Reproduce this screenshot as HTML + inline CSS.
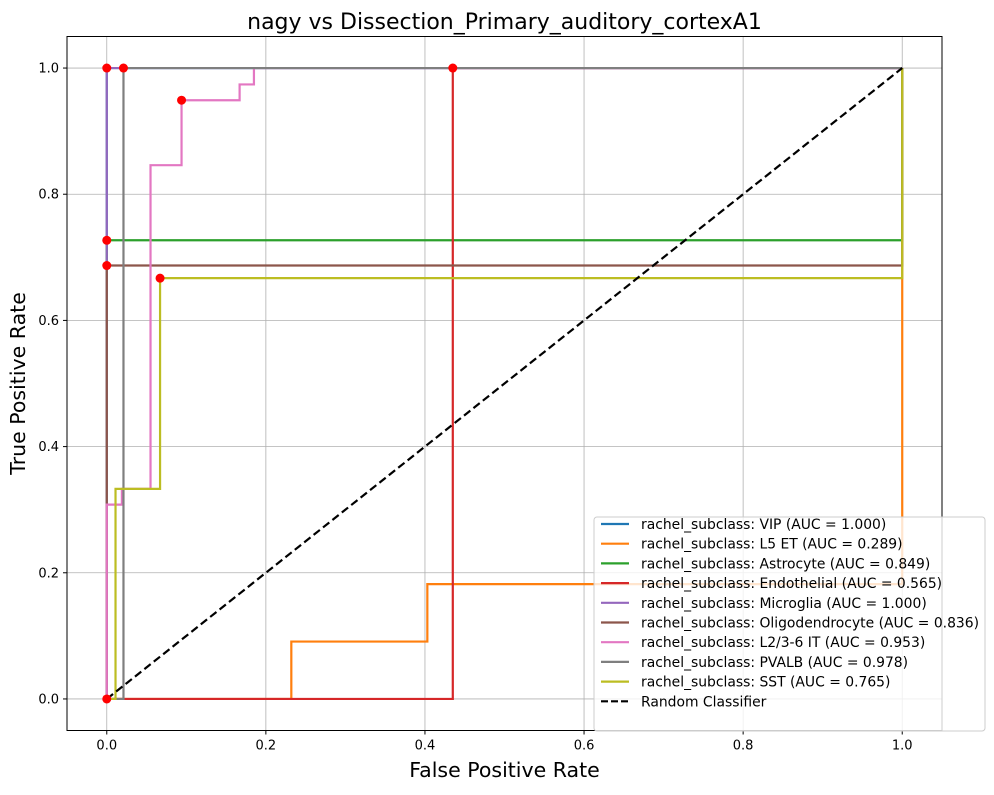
<!DOCTYPE html>
<html><head><meta charset="utf-8"><style>body{margin:0;background:#fff}svg{font-family:"DejaVu Sans","Liberation Sans",sans-serif}</style></head>
<body>
<svg id="c" width="994" height="790"></svg>
<script>
const names=["rachel_subclass: VIP (AUC = 1.000)","rachel_subclass: L5 ET (AUC = 0.289)","rachel_subclass: Astrocyte (AUC = 0.849)","rachel_subclass: Endothelial (AUC = 0.565)","rachel_subclass: Microglia (AUC = 1.000)","rachel_subclass: Oligodendrocyte (AUC = 0.836)","rachel_subclass: L2/3-6 IT (AUC = 0.953)","rachel_subclass: PVALB (AUC = 0.978)","rachel_subclass: SST (AUC = 0.765)"];
const colors=["#1f77b4","#ff7f0e","#2ca02c","#d62728","#9467bd","#8c564b","#e377c2","#7f7f7f","#bcbd22"];
const fprs=[[0,0,1],[0,0.232,0.232,0.403,0.403,1,1],[0,0,1,1],[0,0.435,0.435,1],[0,0,1],[0,0,1,1],[0,0,0.019,0.019,0.055,0.055,0.094,0.094,0.167,0.167,0.185,0.185,1],[0,0.021,0.021,1],[0,0.011,0.011,0.067,0.067,1,1]];
const tprs=[[0,1,1],[0,0,0.091,0.091,0.182,0.182,1],[0,0.727,0.727,1],[0,0,1,1],[0,1,1],[0,0.687,0.687,1],[0,0.308,0.308,0.333,0.333,0.846,0.846,0.949,0.949,0.974,0.974,1,1],[0,0,1,1],[0,0,0.333,0.333,0.667,0.667,1]];
const dotX=[0,0,0.021,0.094,0,0,0.067,0.435];
const dotY=[0,1,1,0.949,0.727,0.687,0.667,1];
const ticks=[0,0.2,0.4,0.6,0.8,1.0];
const tickLabels=["0.0","0.2","0.4","0.6","0.8","1.0"];
const svg=document.getElementById('c');const NS="http://www.w3.org/2000/svg";
const L=67,R=942,T=36.5,B=730.5;
const sx=v=>L+(v+0.05)/1.1*(R-L), sy=v=>B-(v+0.05)/1.1*(B-T);
function el(t,a,p){const e=document.createElementNS(NS,t);for(const k in a)e.setAttribute(k,a[k]);(p||svg).appendChild(e);return e;}
ticks.forEach((t,i)=>{
 let g=el('line',{x1:sx(t),x2:sx(t),y1:T,y2:B,stroke:'#b0b0b0','stroke-width':0.8});
 
 g=el('line',{x1:L,x2:R,y1:sy(t),y2:sy(t),stroke:'#b0b0b0','stroke-width':0.8});
 
 el('line',{x1:sx(t),x2:sx(t),y1:B,y2:B+4,stroke:'#000'});el('line',{x1:L-4,x2:L,y1:sy(t),y2:sy(t),stroke:'#000'});
 let a=el('text',{x:sx(t),y:B+19,'text-anchor':'middle','font-size':13});a.textContent=tickLabels[i];
 
 a=el('text',{x:L-8,y:sy(t)+4.5,'text-anchor':'end','font-size':13});a.textContent=tickLabels[i];
 
});
fprs.forEach((f,i)=>{
 const p=el('polyline',{points:f.map((x,j)=>sx(x)+','+sy(tprs[i][j])).join(' '),fill:'none',stroke:colors[i],'stroke-width':2.2});
 
});
const rl=el('line',{x1:sx(0),y1:sy(0),x2:sx(1),y2:sy(1),stroke:'#000','stroke-width':2.2,'stroke-dasharray':'8,4'});

dotX.forEach((x,i)=>{const c=el('circle',{cx:sx(x),cy:sy(dotY[i]),r:4.5,fill:'red'});
 });
el('rect',{x:L,y:T,width:R-L,height:B-T,fill:'none',stroke:'#000','stroke-width':1});
let t=el('text',{x:(L+R)/2,y:29,'text-anchor':'middle','font-size':22});t.textContent='nagy vs Dissection_Primary_auditory_cortexA1';

t=el('text',{x:(L+R)/2,y:777,'text-anchor':'middle','font-size':20.5});t.textContent='False Positive Rate';

t=el('text',{x:25,y:(T+B)/2,'text-anchor':'middle','font-size':20.5,transform:'rotate(-90 25 '+(T+B)/2+')'});t.textContent='True Positive Rate';

const lg=el('g',{});
el('rect',{x:594,y:517,width:391,height:214,rx:3,fill:'#fff','fill-opacity':0.8,stroke:'#ccc'},lg);
const ln=names.concat(['Random Classifier']),lc=colors.concat(['#000']);
ln.forEach((n,i)=>{const y=524+i*19.7;
 const g=el('g',{},lg);
 el('line',{x1:601,x2:629,y1:y,y2:y,stroke:lc[i],'stroke-width':2.2,'stroke-dasharray':i==9?'7,3':'none'},g);
 const tx=el('text',{x:641,y:y+5,'font-size':13.9},g);tx.textContent=n;});
</script>
</body></html>
